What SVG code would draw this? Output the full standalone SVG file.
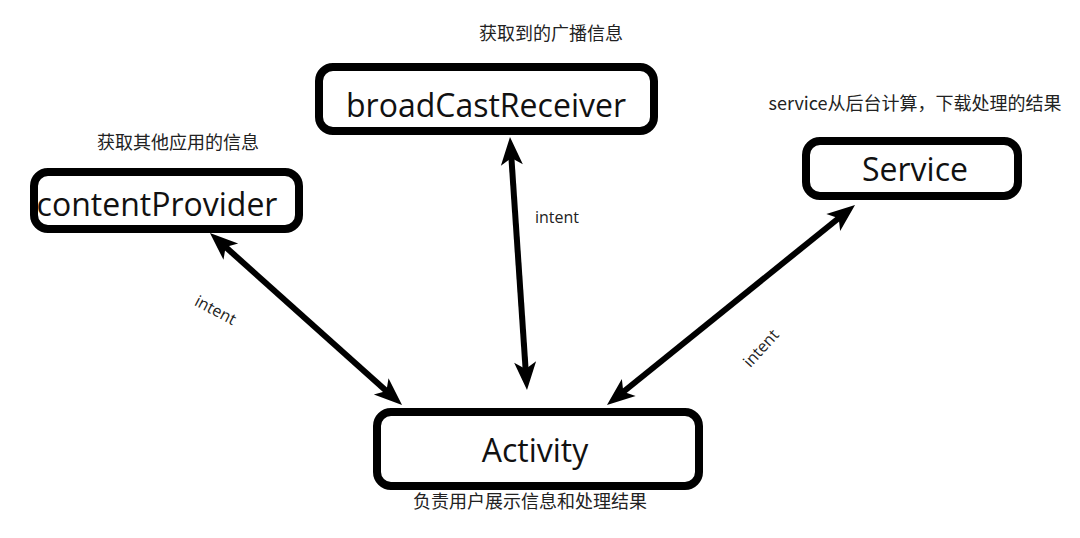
<svg xmlns="http://www.w3.org/2000/svg" width="1080" height="538" viewBox="0 0 1080 538">
<style>
.box{fill:#fff;stroke:#000;stroke-width:8}
.name{font-family:"Open Sans","Noto Sans",sans-serif;font-size:32px;fill:#111;text-anchor:middle}
.note{font-family:"Noto Sans CJK SC","Open Sans",sans-serif;font-size:18px;fill:#222;text-anchor:middle}
.lbl{font-family:"Open Sans","Noto Sans",sans-serif;font-size:16px;fill:#222;text-anchor:middle}
.conn{stroke:#000;stroke-width:6;fill:none;marker-start:url(#ah);marker-end:url(#ah)}
</style>
<defs>
<marker id="ah" markerUnits="userSpaceOnUse" viewBox="-20 -13 36 26" markerWidth="36" markerHeight="26" refX="0" refY="0" orient="auto-start-reverse">
<path d="M12,0 L-16,-11 L-9,0 L-16,11 Z" fill="#000"/>
</marker>
</defs>
<rect width="1080" height="538" fill="#fff"/>
<g id="connectors">
<line class="conn" x1="218.9" y1="241" x2="393.1" y2="397"/>
<line class="conn" x1="510.8" y1="149" x2="526.2" y2="378"/>
<line class="conn" x1="845.7" y1="212.5" x2="616.3" y2="397.5"/>
<text class="lbl" transform="translate(213,315) rotate(28)">intent</text>
<text class="lbl" x="557" y="223">intent</text>
<text class="lbl" transform="translate(765,352) rotate(-48)">intent</text>
</g>
<g id="broadCastReceiver">
<rect class="box" x="319" y="67" width="335" height="64" rx="14"/>
<text class="name" x="486" y="117">broadCastReceiver</text>
<text class="note" x="551" y="40">获取到的广播信息</text>
</g>
<g id="contentProvider">
<rect class="box" x="34" y="172" width="265" height="57" rx="14"/>
<text class="name" x="157" y="216">contentProvider</text>
<text class="note" x="178" y="149">获取其他应用的信息</text>
</g>
<g id="Service">
<rect class="box" x="806" y="141" width="212" height="55" rx="14"/>
<text class="name" x="915" y="181">Service</text>
<text class="note" x="915" y="110">service从后台计算，下载处理的结果</text>
</g>
<g id="Activity">
<rect class="box" x="377" y="412" width="322" height="74" rx="14"/>
<text class="name" x="535" y="462">Activity</text>
<text class="note" x="530" y="508">负责用户展示信息和处理结果</text>
</g>
</svg>
